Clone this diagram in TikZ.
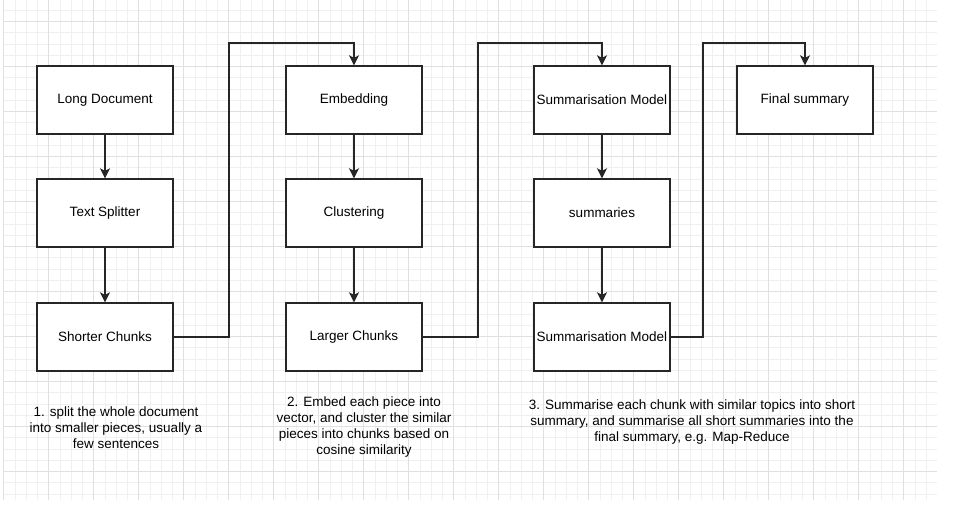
\documentclass[tikz,border=0pt]{standalone}
\usepackage{fontspec}
\setmainfont{Liberation Sans}
\usetikzlibrary{arrows.meta}

\begin{document}
\begin{tikzpicture}[x=1pt, y=-1pt,
    box/.style={draw=black!85, fill=white, line width=1.4pt, minimum width=136pt, minimum height=68pt, inner sep=0pt, font=\fontsize{13.5}{16}\selectfont},
    note/.style={align=center, inner sep=0pt, font=\fontsize{13.5}{16}\selectfont},
    arr/.style={draw=black!85, line width=1.3pt, -{Stealth[length=10pt, width=10pt, inset=2.5pt]}}]

        \useasboundingbox (0,0) rectangle (954,519);
        \fill[white] (0,0) rectangle (954,519);

        % grid
        \foreach \i in {0,...,82}
            \draw[black!6, line width=0.8pt] (3.7+11.25*\i,0) -- (3.7+11.25*\i,500);
        \foreach \i in {-1,...,42}
            \draw[black!6, line width=0.8pt] (3.7,21.5+11.25*\i) -- (937,21.5+11.25*\i);
        \foreach \i in {0,...,20}
            \draw[black!12, line width=1pt] (3.7+45*\i,0) -- (3.7+45*\i,500);
        \foreach \i in {0,...,10}
            \draw[black!12, line width=1pt] (3.7,21.5+45*\i) -- (937,21.5+45*\i);

        \node[box] (longdoc) at (105,100) {Long Document};
        \node[box] (splitter) at (105,213) {Text Splitter};
        \node[box] (shorter) at (105,337) {Shorter Chunks};

        \node[box] (embed) at (354,100) {Embedding};
        \node[box] (cluster) at (354,213) {Clustering};
        \node[box] (larger) at (354,337) {Larger Chunks};

        \node[box] (summodel) at (602,100) {Summarisation Model};
        \node[box] (summaries) at (602,213) {summaries};
        \node[box] (summodelb) at (602,337) {Summarisation Model};

        \node[box] (final) at (805,100) {Final summary};

        \node[note] (stepone) at (116,428) {1. split the whole document\\into smaller pieces, usually a\\few sentences};
        \node[note] (steptwo) at (364,427) {2. Embed each piece into\\vector, and cluster the similar\\pieces into chunks based on\\cosine similarity};
        \node[note] (stepthree) at (692,422) {3. Summarise each chunk with similar topics into short\\summary, and summarise all short summaries into the\\final summary, e.g. Map-Reduce};

        \draw[arr] (longdoc) -- (splitter);
        \draw[arr] (splitter) -- (shorter);
        \draw[arr] (embed) -- (cluster);
        \draw[arr] (cluster) -- (larger);
        \draw[arr] (summodel) -- (summaries);
        \draw[arr] (summaries) -- (summodelb);

        \coordinate (bendA) at (229,43);
        \coordinate (bendB) at (478,43);
        \coordinate (bendC) at (703,43);

        \draw[arr] (shorter.east) -| (bendA) -| (embed.north);
        \draw[arr] (larger.east) -| (bendB) -| (summodel.north);
        \draw[arr] (summodelb.east) -| (bendC) -| (final.north);

\end{tikzpicture}
\end{document}
